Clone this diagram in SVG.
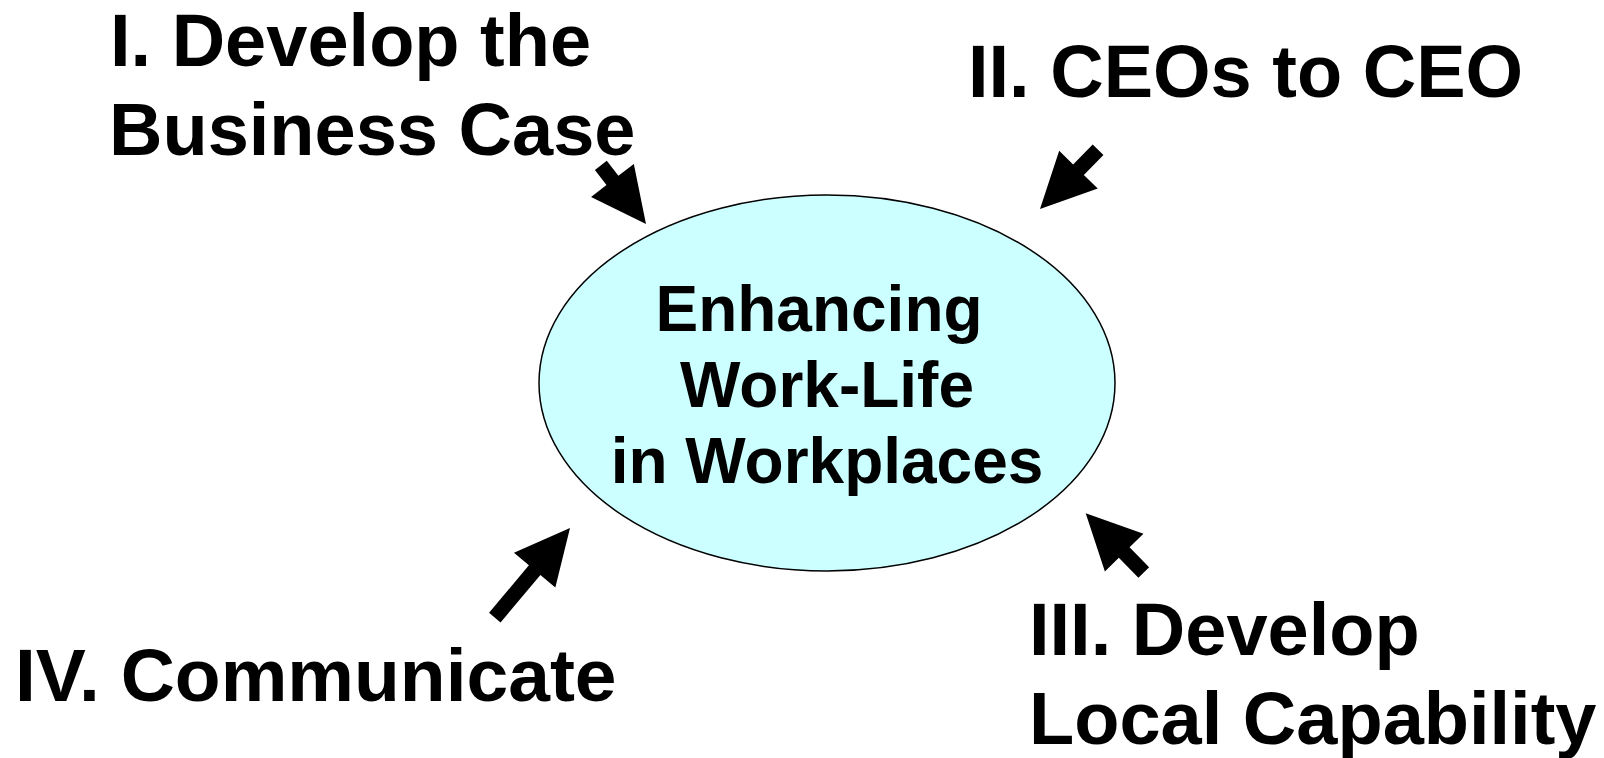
<svg xmlns="http://www.w3.org/2000/svg" width="1604" height="758" viewBox="0 0 1604 758">
  <style>
    .lbl { font-family: "Liberation Sans", Arial, sans-serif; font-weight: bold; font-size: 74px; fill: #000; }
    .core { font-family: "Liberation Sans", Arial, sans-serif; font-weight: bold; font-size: 64px; fill: #000; text-anchor: middle; }
    .arrow { fill: #000; stroke: none; }
  </style>
  <rect width="1604" height="758" fill="#fff"/>

  <!-- central theme -->
  <g id="center">
    <ellipse cx="827" cy="383" rx="288" ry="188" fill="#CCFFFF" stroke="#000" stroke-width="1.5"/>
    <text class="core" x="819" y="331">Enhancing</text>
    <text class="core" x="827" y="407">Work-Life</text>
    <text class="core" x="827" y="483">in Workplaces</text>
  </g>

  <!-- four strategies around the centre -->
  <g id="strategy-1">
    <text class="lbl" x="110" y="66">I. Develop the</text>
    <text class="lbl" x="109" y="155">Business Case</text>
  </g>
  <g id="strategy-2">
    <text class="lbl" x="968" y="97">II. CEOs to CEO</text>
  </g>
  <g id="strategy-3">
    <text class="lbl" x="1029" y="655">III. Develop</text>
    <text class="lbl" x="1029" y="744">Local Capability</text>
  </g>
  <g id="strategy-4">
    <text class="lbl" x="15" y="701" style="font-size:75px">IV. Communicate</text>
  </g>

  <!-- block arrows pointing at the ellipse; tip at origin, pointing +x -->
  <g id="connectors">
    <path class="arrow" transform="translate(646,224) rotate(52.4)" d="M0,0 L-55,-27 L-55,-7.5 L-74,-7.5 L-74,7.5 L-55,7.5 L-55,27 Z"/>
    <path class="arrow" transform="translate(1040,209) rotate(134.4)" d="M0,0 L-55,-27 L-55,-7.5 L-83,-7.5 L-83,7.5 L-55,7.5 L-55,27 Z"/>
    <path class="arrow" transform="translate(1085.7,513.3) rotate(225.6)" d="M0,0 L-55,-27 L-55,-7.5 L-83,-7.5 L-83,7.5 L-55,7.5 L-55,27 Z"/>
    <path class="arrow" transform="translate(570,528) rotate(-50)" d="M0,0 L-55,-27 L-55,-7.5 L-117,-7.5 L-117,7.5 L-55,7.5 L-55,27 Z"/>
  </g>
</svg>
